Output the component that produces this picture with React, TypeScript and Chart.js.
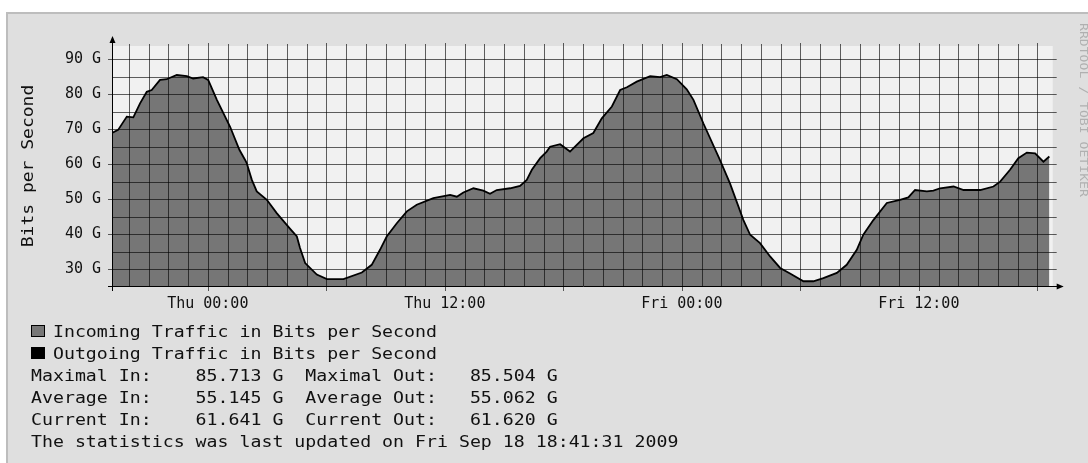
import React, { useEffect, useRef } from "react";
import { Chart, registerables } from "chart.js";

Chart.register(...registerables);

const W = 1088;
const H = 463;

// Hours relative to Thu 00:00
const hours = [
  -4.85, -4.54, -4.1, -3.77, -3.43, -3.09, -2.84, -2.42, -2.08, -1.57,
  -1.06, -0.74, -0.24, 0.02, 0.46, 1.13, 1.6, 1.89, 1.97, 2.23,
  2.48, 2.99, 3.49, 4.17, 4.51, 4.67, 4.93, 5.52, 6.03, 6.87,
  7.8, 8.3, 8.72, 9.06, 9.57, 10.08, 10.58, 11.42, 12.27, 12.61,
  12.94, 13.45, 13.95, 14.29, 14.63, 15.31, 15.81, 16.15, 16.41, 16.83,
  17.16, 17.33, 17.84, 18.34, 19.02, 19.52, 19.95, 20.46, 20.88, 21.22,
  21.72, 22.4, 22.9, 23.24, 23.75, 24.25, 24.59, 25.09, 25.85, 25.93,
  26.44, 27.12, 27.46, 27.96, 28.47, 28.98, 29.48, 30.16, 30.66, 31.17,
  31.85, 32.35, 32.86, 33.19, 33.7, 34.38, 35.05, 35.47, 35.81, 36.41,
  36.74, 37.08, 37.76, 38.27, 39.11, 39.78, 40.12, 40.62, 41.04, 41.47,
  41.89, 42.31, 42.61,
];

// Incoming traffic (G bits/s)
const inValues = [
  68.9, 69.8, 73.6, 73.4, 77.4, 80.7, 81.2, 84.1, 84.3, 85.5,
  85.2, 84.5, 84.9, 84.1, 78.4, 70.7, 64.1, 61.2, 60.3, 55.5,
  52.2, 49.8, 46.0, 41.5, 39.3, 36.0, 31.7, 28.4, 27.1, 27.1,
  29.0, 31.2, 35.5, 39.3, 43.1, 46.5, 48.4, 50.3, 51.2, 50.7,
  51.9, 53.1, 52.4, 51.5, 52.6, 53.1, 53.8, 55.5, 58.4, 61.7,
  63.6, 65.0, 65.7, 63.6, 67.4, 68.9, 73.1, 76.5, 81.2, 82.0,
  83.6, 85.2, 84.9, 85.5, 84.3, 81.4, 78.4, 71.7, 62.2, 61.2,
  54.5, 44.0, 39.8, 37.4, 33.6, 30.3, 28.7, 26.5, 26.5, 27.4,
  28.9, 31.2, 35.5, 39.8, 44.0, 48.9, 49.8, 50.5, 52.6, 52.2,
  52.4, 53.1, 53.6, 52.6, 52.6, 53.6, 55.0, 58.4, 61.7, 63.3,
  63.1, 60.7, 62.2,
];

// Outgoing traffic (G bits/s) - the black outline
const outValues = [
  68.9, 69.8, 73.6, 73.4, 77.4, 80.7, 81.2, 84.1, 84.3, 85.5,
  85.2, 84.5, 84.9, 84.1, 78.4, 70.7, 64.1, 61.2, 60.3, 55.5,
  52.2, 49.8, 46.0, 41.5, 39.3, 36.0, 31.7, 28.4, 27.1, 27.1,
  29.0, 31.2, 35.5, 39.3, 43.1, 46.5, 48.4, 50.3, 51.2, 50.7,
  51.9, 53.1, 52.4, 51.5, 52.6, 53.1, 53.8, 55.5, 58.4, 61.7,
  63.6, 65.0, 65.7, 63.6, 67.4, 68.9, 73.1, 76.5, 81.2, 82.0,
  83.6, 85.2, 84.9, 85.5, 84.3, 81.4, 78.4, 71.7, 62.2, 61.2,
  54.5, 44.0, 39.8, 37.4, 33.6, 30.3, 28.7, 26.5, 26.5, 27.4,
  28.9, 31.2, 35.5, 39.8, 44.0, 48.9, 49.8, 50.5, 52.6, 52.2,
  52.4, 53.1, 53.6, 52.6, 52.6, 53.6, 55.0, 58.4, 61.7, 63.3,
  63.1, 60.7, 62.2,
];

const xTickHours = [0, 12, 24, 36];
const xTickLabels = ["Thu 00:00", "Thu 12:00", "Fri 00:00", "Fri 12:00"];
const yTickValues = [30, 40, 50, 60, 70, 80, 90];
const yTitle = "Bits per Second";
const watermark = "RRDTOOL / TOBI OETIKER";

const legendItems = [
  "Incoming Traffic in Bits per Second",
  "Outgoing Traffic in Bits per Second",
];
const legendColors = ["#777777", "#000000"];
const statNames = ["Maximal", "Average", "Current"];
const statIn = ["85.713 G", "55.145 G", "61.641 G"];
const statOut = ["85.504 G", "55.062 G", "61.620 G"];
const updatedLine = "The statistics was last updated on Fri Sep 18 18:41:31 2009";

const timeMin = -4.85;
const timeMax = 42.78;
const yMin = 25.14;
const yMax = 93.8;

const FONT = '"DejaVu Sans Mono", monospace';

const rrdPlugin = {
  id: "rrd",
  beforeDraw(chart: any) {
    const { ctx, chartArea: a } = chart;
    ctx.save();
    ctx.fillStyle = "#ffffff";
    ctx.fillRect(0, 0, W, H);
    ctx.fillStyle = "#bdbdbd";
    ctx.fillRect(6, 12, W - 6, H - 12);
    ctx.fillStyle = "#dfdfdf";
    ctx.fillRect(8, 14, W - 8, H - 14);
    ctx.fillStyle = "#f1f1f1";
    ctx.fillRect(a.left, a.top, a.right - a.left, a.bottom - a.top);

    // y axis title
    ctx.save();
    ctx.translate(33, 166);
    ctx.rotate(-Math.PI / 2);
    ctx.scale(1.2, 1);
    ctx.font = `15px ${FONT}`;
    ctx.textAlign = "center";
    ctx.textBaseline = "alphabetic";
    ctx.fillStyle = "#111";
    ctx.fillText(yTitle, 0, 0);
    ctx.restore();

    // watermark
    ctx.save();
    ctx.translate(1079.5, 23);
    ctx.rotate(Math.PI / 2);
    ctx.scale(1.25, 1);
    ctx.font = `10.5px ${FONT}`;
    ctx.textAlign = "left";
    ctx.textBaseline = "alphabetic";
    ctx.fillStyle = "#b0b0b0";
    ctx.fillText(watermark, 0, 0);
    ctx.restore();
    ctx.restore();
  },
  afterDatasetsDraw(chart: any) {
    const { ctx, chartArea: a, scales } = chart;
    const xs = scales.x;
    const ys = scales.y;
    ctx.save();
    ctx.lineWidth = 1;
    ctx.strokeStyle = "rgba(0,0,0,0.62)";
    const line = (x0: number, y0: number, x1: number, y1: number) => {
      ctx.beginPath();
      ctx.moveTo(x0, y0);
      ctx.lineTo(x1, y1);
      ctx.stroke();
    };
    // horizontal grid every 5 G
    for (let v = 30; v <= yMax; v += 5) {
      const y = Math.round(ys.getPixelForValue(v)) + 0.5;
      const x0 = v % 10 === 0 ? a.left - 4 : a.left;
      line(x0, y, a.right + 4, y);
    }
    // vertical grid every hour
    for (let h = Math.ceil(timeMin); h <= timeMax; h++) {
      const x = Math.round(xs.getPixelForValue(h)) + 0.5;
      const major = h % 6 === 0;
      line(x, a.top - (major ? 3 : 2), x, a.bottom + (major ? 5 : 0));
    }
    // axes
    ctx.strokeStyle = "#000";
    const ax = Math.round(a.left) + 0.5;
    const ay = Math.round(a.bottom) + 0.5;
    line(ax, a.top - 4, ax, a.bottom + 5);
    line(a.left - 4, ay, a.right + 6, ay);
    ctx.fillStyle = "#000";
    // y arrow
    ctx.beginPath();
    ctx.moveTo(ax, a.top - 10);
    ctx.lineTo(ax - 3, a.top - 3);
    ctx.lineTo(ax + 3, a.top - 3);
    ctx.closePath();
    ctx.fill();
    // x arrow
    ctx.beginPath();
    ctx.moveTo(a.right + 11, ay);
    ctx.lineTo(a.right + 4, ay - 3);
    ctx.lineTo(a.right + 4, ay + 3);
    ctx.closePath();
    ctx.fill();
    ctx.restore();
  },
};

export default function App() {
  const ref = useRef<HTMLCanvasElement>(null);

  useEffect(() => {
    const canvas = ref.current;
    if (!canvas) return;
    const inData = hours.map((h, i) => ({ x: h, y: inValues[i] }));
    const outData = hours.map((h, i) => ({ x: h, y: outValues[i] }));
    const chart = new Chart(canvas, {
      type: "line",
      data: {
        datasets: [
          {
            label: legendItems[1],
            data: outData,
            borderColor: "#000000",
            borderWidth: 1.8,
            pointRadius: 0,
            fill: false,
            tension: 0,
            order: 0,
          },
          {
            label: legendItems[0],
            data: inData,
            borderWidth: 0,
            borderColor: "rgba(0,0,0,0)",
            backgroundColor: "#767676",
            pointRadius: 0,
            fill: "start",
            tension: 0,
            order: 1,
          },
        ],
      },
      options: {
        responsive: false,
        animation: false,
        devicePixelRatio: 1,
        events: [],
        layout: { padding: { top: 46, right: W - 1052.7, left: 0, bottom: 0 } },
        plugins: { legend: { display: false }, tooltip: { enabled: false } },
        scales: {
          x: {
            type: "linear",
            min: timeMin,
            max: timeMax,
            grid: { display: false, drawTicks: false },
            border: { display: false },
            ticks: {
              stepSize: 12,
              includeBounds: false,
              autoSkip: false,
              maxRotation: 0,
              padding: 9,
              color: "#111",
              font: { family: FONT, size: 15 },
              callback: (v: any) => {
                const i = xTickHours.indexOf(Number(v));
                return i >= 0 ? xTickLabels[i] : "";
              },
            },
            afterFit: (s: any) => {
              s.height = H - 286;
            },
          },
          y: {
            type: "linear",
            min: yMin,
            max: yMax,
            grid: { display: false, drawTicks: false },
            border: { display: false },
            ticks: {
              stepSize: 10,
              includeBounds: false,
              autoSkip: false,
              padding: 11,
              color: "#111",
              font: { family: FONT, size: 15 },
              callback: (v: any) =>
                yTickValues.includes(Number(v)) ? `${v} G` : "",
            },
            afterFit: (s: any) => {
              s.width = 112;
            },
          },
        },
      },
      plugins: [rrdPlugin],
    } as any);
    return () => chart.destroy();
  }, []);

  const textStyle: React.CSSProperties = {
    position: "absolute",
    left: 31,
    fontFamily: FONT,
    fontSize: 15,
    lineHeight: "22px",
    whiteSpace: "pre",
    color: "#111",
    margin: 0,
    transform: "scaleX(1.215)",
    transformOrigin: "left center",
  };

  const lines: string[] = [
    "  " + legendItems[0],
    "  " + legendItems[1],
    ...statNames.map(
      (n, i) =>
        `${n} In:`.padEnd(15) + statIn[i] + "  " + `${n} Out:`.padEnd(15) + statOut[i]
    ),
    updatedLine,
  ];

  return (
    <div
      style={{
        position: "fixed",
        left: 0,
        top: 0,
        width: W,
        height: H,
        overflow: "hidden",
        background: "#fff",
      }}
    >
      <canvas
        ref={ref}
        width={W}
        height={H}
        style={{ display: "block", width: W, height: H }}
      />
      {lines.map((t, i) => (
        <div key={i} style={{ ...textStyle, top: 336.7 + 22.1 * i - 16.2 }}>
          {t}
        </div>
      ))}
      {legendColors.map((c, i) => (
        <div
          key={"sq" + i}
          style={{
            position: "absolute",
            left: 31,
            top: 325 + 22 * i,
            width: 14,
            height: 12,
            boxSizing: "border-box",
            border: "1px solid #000",
            background: c,
          }}
        />
      ))}
    </div>
  );
}
